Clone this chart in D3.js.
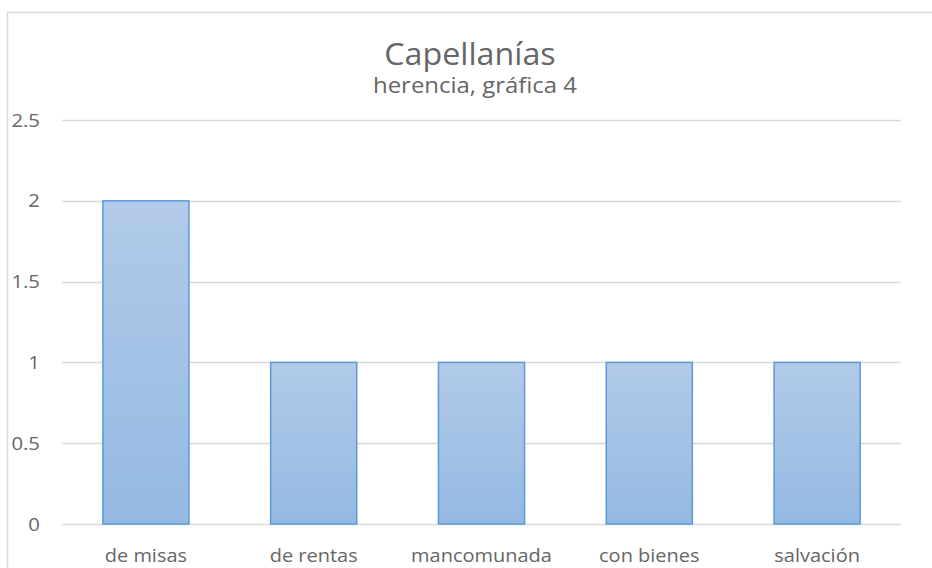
<!DOCTYPE html>
<html>
<head>
<meta charset="utf-8">
<script src="https://cdn.jsdelivr.net/npm/d3@7"></script>
<style>
  body { margin: 0; background: #fff; }
  text { font-family: "Open Sans", sans-serif; fill: #666666; }
</style>
</head>
<body>
<div id="chart"></div>
<script>
const categories = ['de misas', 'de rentas', 'mancomunada', 'con bienes', 'salvación'];
const values = [2, 1, 1, 1, 1];
const yTicks = [0, 0.5, 1, 1.5, 2, 2.5];
const title = 'Capellanías';
const subtitle = 'herencia, gráfica 4';

const W = 932, H = 568;
const plot = { left: 62, right: 901, top: 120, bottom: 524 };

const svg = d3.select('#chart').append('svg')
  .attr('width', W).attr('height', H);

// place text with a slight horizontal stretch, like the source render
const at = (px, py, sx) => `translate(${px},${py}) scale(${sx},1)`;

const grad = svg.append('defs').append('linearGradient')
  .attr('id', 'barGrad').attr('x1', 0).attr('y1', 0).attr('x2', 0).attr('y2', 1);
grad.append('stop').attr('offset', '0%').attr('stop-color', '#b1cae8');
grad.append('stop').attr('offset', '100%').attr('stop-color', '#95b9e3');

// chart frame
svg.append('rect')
  .attr('x', 7.5).attr('y', 12.5)
  .attr('width', W).attr('height', H)
  .attr('fill', 'none').attr('stroke', '#d9d9d9').attr('stroke-width', 1.5);

const x = d3.scaleBand()
  .domain(categories)
  .range([plot.left, plot.right])
  .paddingInner(0.487)
  .paddingOuter(0.2435);

const y = d3.scaleLinear()
  .domain([0, 2.5])
  .range([plot.bottom, plot.top]);

// gridlines
svg.append('g')
  .selectAll('line')
  .data(yTicks)
  .join('line')
    .attr('x1', plot.left).attr('x2', plot.right)
    .attr('y1', d => Math.round(y(d)) + 0.5).attr('y2', d => Math.round(y(d)) + 0.5)
    .attr('stroke', '#d9d9d9').attr('stroke-width', 1.5);

// y labels
svg.append('g')
  .selectAll('text')
  .data(yTicks)
  .join('text')
    .attr('transform', d => at(40, y(d), 1.1))
    .attr('dy', '0.36em')
    .attr('text-anchor', 'end')
    .style('font-size', '18.5px')
    .text(d => d);

// bars
svg.append('g')
  .selectAll('rect')
  .data(values)
  .join('rect')
    .attr('x', (d, i) => x(categories[i]))
    .attr('y', d => y(d))
    .attr('width', x.bandwidth())
    .attr('height', d => y(0) - y(d))
    .attr('fill', 'url(#barGrad)')
    .attr('stroke', '#5b9bd5')
    .attr('stroke-width', 1.5);

// x labels
svg.append('g')
  .selectAll('text')
  .data(categories)
  .join('text')
    .attr('transform', d => at(x(d) + x.bandwidth() / 2, 562, 1.08))
    .attr('text-anchor', 'middle')
    .style('font-size', '18.5px')
    .text(d => d);

const cx = (385 + 555) / 2;

svg.append('text')
  .attr('transform', at(cx, 65, 1.04))
  .attr('text-anchor', 'middle')
  .style('font-size', '31px')
  .text(title);

svg.append('text')
  .attr('transform', at(cx + 5, 93, 1.14))
  .attr('text-anchor', 'middle')
  .style('font-size', '21px')
  .text(subtitle);
</script>
</body>
</html>
